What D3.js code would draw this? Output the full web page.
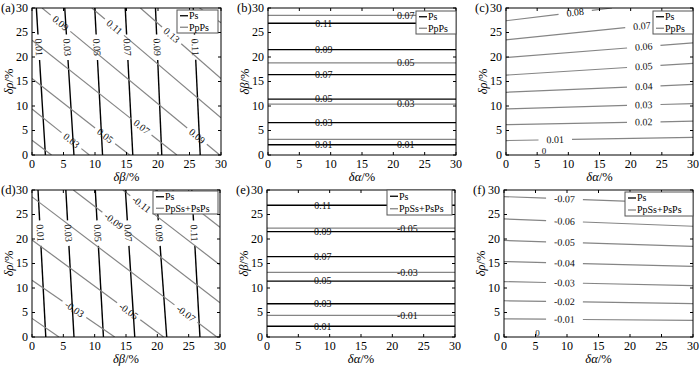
<!DOCTYPE html>
<html><head><meta charset="utf-8">
<script src="https://cdn.jsdelivr.net/npm/d3@7"></script>
<style>body{margin:0;background:#fff} svg{display:block}</style>
</head><body><svg id="c" width="700" height="369"></svg>
<script>
// ---------- data ----------
const ticks = [0,5,10,15,20,25,30];
const tickLabels = ["0","5","10","15","20","25","30"];
const panelTitles = ["(a)","(b)","(c)","(d)","(e)","(f)"];
const xLabels = [["δβ","/%"],["δα","/%"],["δα","/%"],["δβ","/%"],["δα","/%"],["δα","/%"]];
const yLabels = [["δρ","/%"],["δβ","/%"],["δρ","/%"],["δρ","/%"],["δβ","/%"],["δρ","/%"]];
const legendNames = [["Ps","PpPs"],["Ps","PpPs"],["Ps","PpPs"],["Ps","PpSs+PsPs"],["Ps","PpSs+PsPs"],["Ps","PpSs+PsPs"]];

// (a) Ps contours: δβ where contour meets δρ=0 and δρ=30
const aPsLevels = ["0.01","0.03","0.05","0.07","0.09","0.11"];
const aPsBottom = [2.13,6.66,11.2,16.0,20.6,26.7];
const aPsTop = [0.69,5.2,9.96,14.8,19.6,25.6];
const aPsLabelRho = 22;
// (a) PpPs contours: start / end points [δβ, δρ]
const aPpPsLevels = ["0.01","0.03","0.05","0.07","0.09","0.11","0.13","0.15"];
const aPpPsStart = [[0,3.0],[0,9.4],[0,15.6],[0,23.4],[1.6,30],[9.5,30],[17.2,30],[26.6,30]];
const aPpPsEnd = [[3.1,0],[9.1,0],[15.5,0],[23.0,0],[29.8,0],[30,7.6],[30,15.6],[30,27.0]];
const aPpPsLabels = [[1,6.3,3.0],[2,11.9,4.4],[3,17.2,5.4],[4,4.15,26.3],[4,26.3,4.0],[5,12.9,25.8],[6,22.7,25.2]];

// (b) Ps and PpPs contours (δβ levels, flat in δα)
const bPsLevels = ["0.01","0.03","0.05","0.07","0.09","0.11"];
const bPsBeta = [2.1,6.6,11.4,16.4,21.5,26.9];
const bPsLabelAlpha = [8.9,22.0];
const bPpPsLevels = ["0.01","0.03","0.05","0.07"];
const bPpPsBeta = [3.2,10.4,18.8,28.5];
const bPpPsLabelAlpha = 22.0;

// (c) PpPs contours: start / end [δα, δρ]
const cLevels = ["0.01","0.02","0.03","0.04","0.05","0.06","0.07","0.08"];
const cStart = [[0,2.95],[0,6.2],[0,9.4],[0,12.8],[0,16.3],[0,19.9],[0,23.5],[0,27.4]];
const cEnd = [[30,3.6],[30,6.9],[30,10.5],[30,14.4],[30,18.7],[30,22.9],[30,27.4],[17,30]];
const cLabelAlpha = [7.9,22.1,22.1,22.1,22.1,22.1,21.8,11.1];
const cZeroAt = [6.1,0.8];

// (d) Ps contours
const dPsLevels = ["0.01","0.03","0.05","0.07","0.09","0.11"];
const dPsBottom = [2.2,6.7,11.4,16.4,21.5,26.8];
const dPsTop = [0.96,5.4,10.1,14.9,19.8,25.5];
const dPsLabelRho = 21.2;
// (d) PpSs+PsPs contours
const dMixLevels = ["-0.01","-0.03","-0.05","-0.07","-0.09","-0.11","-0.13"];
const dMixStart = [[0,3.8],[0,11.6],[0,19.8],[0,28.6],[6.6,30],[14.5,30],[22.4,30]];
const dMixEnd = [[4.3,0],[13.2,0],[21.0,0],[29.5,0],[30,7.0],[30,14.7],[30,22.4]];
const dMixLabels = [[1,6.9,5.9],[2,15.4,5.2],[3,24.4,4.5],[4,12.9,23.4],[5,17.2,26.6]];

// (e)
const ePsLevels = ["0.01","0.03","0.05","0.07","0.09","0.11"];
const ePsBeta = [2.2,6.8,11.4,16.4,21.5,26.9];
const ePsLabelAlpha = 8.9;
const eMixLevels = ["-0.01","-0.03","-0.05"];
const eMixBeta = [4.4,13.2,22.2];
const eMixLabelAlpha = 22.4;

// (f)
const fLevels = ["-0.01","-0.02","-0.03","-0.04","-0.05","-0.06","-0.07"];
const fLeft = [3.7,7.4,11.3,15.4,19.7,24.1,28.65];
const fRight = [3.4,6.8,10.5,14.4,18.5,22.6,27.2];
const fLabelAlpha = 9.6;
const fZeroAt = [5.3,0.8];

// ---------- layout ----------
const FONT = "Liberation Serif";
const svg = d3.select("#c");
const GRAY = "#858585", BLACK = "#000";
const boxes = [
 {x0:32,x1:221,y0:8,y1:155},
 {x0:268,x1:456,y0:8,y1:155},
 {x0:506,x1:693,y0:8,y1:155},
 {x0:32,x1:220,y0:190,y1:337},
 {x0:267,x1:455,y0:190,y1:337},
 {x0:504,x1:693,y0:190,y1:337}];
const legendBoxes = [
 {x:177,y:10,w:41,h:23},
 {x:416,y:11,w:40,h:23},
 {x:653,y:11,w:40,h:23},
 {x:153,y:191,w:65,h:23},
 {x:387,y:190,w:65,h:25},
 {x:625,y:192,w:68,h:24}];
const defs = svg.append("defs");

function drawPanel(i, lines, extraTexts, pad, gap) {
  const b = boxes[i];
  const x = d3.scaleLinear().domain([0,30]).range([b.x0,b.x1]);
  const y = d3.scaleLinear().domain([0,30]).range([b.y1,b.y0]);
  defs.append("clipPath").attr("id","clip"+i).append("rect")
    .attr("x",b.x0).attr("y",b.y0).attr("width",b.x1-b.x0).attr("height",b.y1-b.y0);
  const g = svg.append("g");
  const lg = g.append("g").attr("clip-path",`url(#clip${i})`);
  const tg = g.append("g");
  lines.forEach(L => {
    const P0=[x(L.p0[0]),y(L.p0[1])], P1=[x(L.p1[0]),y(L.p1[1])];
    const dx=P1[0]-P0[0], dy=P1[1]-P0[1], len=Math.hypot(dx,dy);
    let ang = Math.atan2(dy,dx)*180/Math.PI;
    if (ang>90) ang-=180; if (ang<=-90) ang+=180;
    const gaps=[];
    (L.labels||[]).forEach(lb => {
      const A=[x(lb[0]),y(lb[1])];
      let t=((A[0]-P0[0])*dx+(A[1]-P0[1])*dy)/(len*len);
      t=Math.max(0,Math.min(1,t));
      const C=[P0[0]+t*dx,P0[1]+t*dy];
      const txt=tg.append("text").attr("transform",`translate(${C[0]},${C[1]}) rotate(${ang})`)
        .attr("font-family",FONT).attr("text-anchor","middle").attr("dy","0.33em").attr("font-size",10).attr("fill","#111").text(lb[2]);
      const w=txt.node().getComputedTextLength();
      if(gap){ const h=(w/2+pad)/len; gaps.push([t-h,t+h]); }
    });
    gaps.sort((a,c)=>a[0]-c[0]);
    let s=0; const segs=[];
    gaps.forEach(gp=>{ if(gp[0]>s) segs.push([s,gp[0]]); s=Math.max(s,gp[1]); });
    if(s<1) segs.push([s,1]);
    segs.forEach(sg=> lg.append("line")
      .attr("x1",P0[0]+sg[0]*dx).attr("y1",P0[1]+sg[0]*dy)
      .attr("x2",P0[0]+sg[1]*dx).attr("y2",P0[1]+sg[1]*dy)
      .attr("stroke",L.color).attr("stroke-width",L.color===BLACK?1.4:1.2));
  });
  (extraTexts||[]).forEach(t => tg.append("text").attr("x",x(t[0])).attr("y",y(t[1]))
     .attr("font-family",FONT).attr("text-anchor","middle").attr("dy","0.33em").attr("font-size",9).attr("fill","#111").text(t[2]));

  // axes box
  g.append("rect").attr("x",b.x0).attr("y",b.y0).attr("width",b.x1-b.x0).attr("height",b.y1-b.y0)
    .attr("fill","none").attr("stroke","#000").attr("stroke-width",1);
  ticks.forEach((v,k) => {
    g.append("line").attr("x1",x(v)).attr("x2",x(v)).attr("y1",b.y1).attr("y2",b.y1-3).attr("stroke","#000");
    g.append("line").attr("x1",x(v)).attr("x2",x(v)).attr("y1",b.y0).attr("y2",b.y0+3).attr("stroke","#000");
    g.append("line").attr("y1",y(v)).attr("y2",y(v)).attr("x1",b.x0).attr("x2",b.x0+3).attr("stroke","#000");
    g.append("line").attr("y1",y(v)).attr("y2",y(v)).attr("x1",b.x1).attr("x2",b.x1-3).attr("stroke","#000");
    g.append("text").attr("font-family",FONT).attr("x",x(v)).attr("y",b.y1+13).attr("text-anchor","middle").attr("font-size",12).text(tickLabels[k]);
    g.append("text").attr("font-family",FONT).attr("x",b.x0-4).attr("y",y(v)).attr("dy","0.33em").attr("text-anchor","end").attr("font-size",12).text(tickLabels[k]);
  });
  // axis labels
  const xl = g.append("text").attr("font-family",FONT).attr("x",(b.x0+b.x1)/2).attr("y",b.y1+26).attr("text-anchor","middle").attr("font-size",12.5);
  xl.append("tspan").attr("font-style","italic").text(xLabels[i][0]);
  xl.append("tspan").text(xLabels[i][1]);
  const yl = g.append("text").attr("font-family",FONT).attr("transform",`translate(${b.x0-19},${(b.y0+b.y1)/2}) rotate(-90)`).attr("text-anchor","middle").attr("font-size",12.5);
  yl.append("tspan").attr("font-style","italic").text(yLabels[i][0]);
  yl.append("tspan").text(yLabels[i][1]);
  // title
  g.append("text").attr("font-family",FONT).attr("x",b.x0-31).attr("y",b.y0+4).attr("font-size",12.5).text(panelTitles[i]);
  // legend
  const lb = legendBoxes[i];
  const leg = g.append("g");
  leg.append("rect").attr("x",lb.x).attr("y",lb.y).attr("width",lb.w).attr("height",lb.h)
    .attr("fill","#fff").attr("stroke","#555").attr("stroke-width",1);
  [BLACK,GRAY].forEach((c,k) => {
    const yy = lb.y + lb.h*(k===0?0.25:0.75);
    leg.append("line").attr("x1",lb.x+3).attr("x2",lb.x+11).attr("y1",yy).attr("y2",yy).attr("stroke",c).attr("stroke-width",1.3);
    leg.append("text").attr("font-family",FONT).attr("x",lb.x+12).attr("y",yy).attr("dy","0.33em").attr("font-size",10).text(legendNames[i][k]);
  });
}

// (a)
{
  const lines = [];
  aPsLevels.forEach((lv,k)=>lines.push({p0:[aPsBottom[k],0],p1:[aPsTop[k],30],color:BLACK,
    labels:[[aPsBottom[k]+(aPsTop[k]-aPsBottom[k])*aPsLabelRho/30,aPsLabelRho,lv]]}));
  aPpPsLevels.forEach((lv,k)=>lines.push({p0:aPpPsStart[k],p1:aPpPsEnd[k],color:GRAY,
    labels:aPpPsLabels.filter(l=>l[0]===k).map(l=>[l[1],l[2],lv])}));
  drawPanel(0, lines, [], 4, true);
}
// (b)
{
  const lines = [];
  bPpPsLevels.forEach((lv,k)=>lines.push({p0:[0,bPpPsBeta[k]],p1:[30,bPpPsBeta[k]],color:GRAY,
    labels:k>0?[[bPpPsLabelAlpha,bPpPsBeta[k],lv]]:[]}));
  bPsLevels.forEach((lv,k)=>lines.push({p0:[0,bPsBeta[k]],p1:[30,bPsBeta[k]],color:BLACK,
    labels:(k===0?bPsLabelAlpha:[bPsLabelAlpha[0]]).map(a=>[a,bPsBeta[k],lv])}));
  drawPanel(1, lines, [], 0, false);
}
// (c)
{
  const lines = cLevels.map((lv,k)=>({p0:cStart[k],p1:cEnd[k],color:GRAY,
    labels:[[cLabelAlpha[k], cStart[k][1]+(cEnd[k][1]-cStart[k][1])*cLabelAlpha[k]/cEnd[k][0], lv]]}));
  drawPanel(2, lines, [[cZeroAt[0],cZeroAt[1],"0"]], 8, true);
}
// (d)
{
  const lines = [];
  dPsLevels.forEach((lv,k)=>lines.push({p0:[dPsBottom[k],0],p1:[dPsTop[k],30],color:BLACK,
    labels:[[dPsBottom[k]+(dPsTop[k]-dPsBottom[k])*dPsLabelRho/30,dPsLabelRho,lv]]}));
  dMixLevels.forEach((lv,k)=>lines.push({p0:dMixStart[k],p1:dMixEnd[k],color:GRAY,
    labels:dMixLabels.filter(l=>l[0]===k).map(l=>[l[1],l[2],lv])}));
  drawPanel(3, lines, [], 4, true);
}
// (e)
{
  const lines = [];
  eMixLevels.forEach((lv,k)=>lines.push({p0:[0,eMixBeta[k]],p1:[30,eMixBeta[k]],color:GRAY,
    labels:[[eMixLabelAlpha,eMixBeta[k],lv]]}));
  ePsLevels.forEach((lv,k)=>lines.push({p0:[0,ePsBeta[k]],p1:[30,ePsBeta[k]],color:BLACK,
    labels:[[ePsLabelAlpha,ePsBeta[k],lv]]}));
  drawPanel(4, lines, [], 0, false);
}
// (f)
{
  const lines = fLevels.map((lv,k)=>({p0:[0,fLeft[k]],p1:[30,fRight[k]],color:GRAY,
    labels:[[fLabelAlpha, fLeft[k]+(fRight[k]-fLeft[k])*fLabelAlpha/30, lv]]}));
  drawPanel(5, lines, [[fZeroAt[0],fZeroAt[1],"0"]], 8, true);
}
</script></body></html>
